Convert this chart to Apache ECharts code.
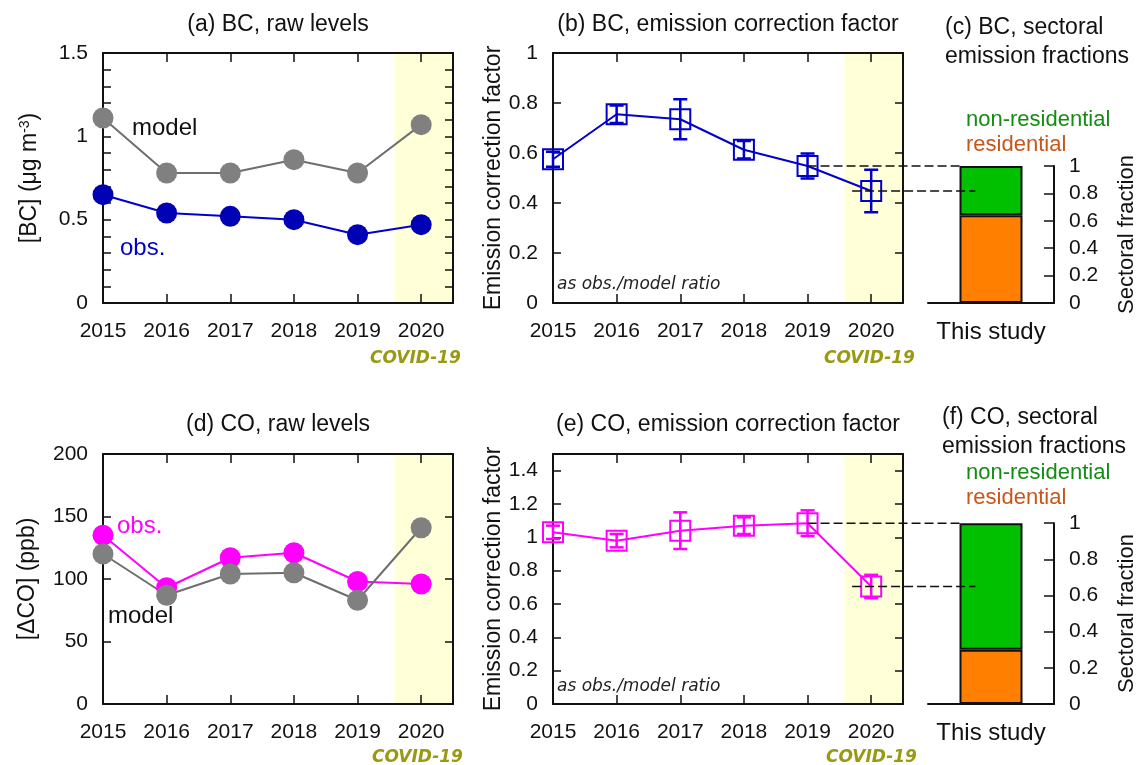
<!DOCTYPE html>
<html>
<head>
<meta charset="utf-8">
<script src="https://cdn.jsdelivr.net/npm/echarts@6/dist/echarts.min.js"></script>
<style>
  html, body { margin: 0; padding: 0; background: #fff; }
  #chart { width: 1142px; height: 765px; }
</style>
</head>
<body>
<div id="chart"></div>
<script>
// ---- data ----------------------------------------------------------------
const YEARS = [2015, 2016, 2017, 2018, 2019, 2020];

// (a) BC raw levels, ug m-3
const bcModel = [1.11, 0.78, 0.78, 0.86, 0.78, 1.07];
const bcObs   = [0.65, 0.54, 0.52, 0.50, 0.41, 0.47];

// (b) BC emission correction factor (obs./model) with uncertainty
const bcFactor    = [0.575, 0.755, 0.735, 0.613, 0.548, 0.448];
const bcFactorErr = [0.03, 0.035, 0.08, 0.035, 0.05, 0.085];

// (d) CO raw levels, ppb
const coObs   = [135, 93, 117, 121, 98, 96];
const coModel = [120, 87, 104, 105, 83, 141];

// (e) CO emission correction factor with uncertainty
const coFactor    = [1.03, 0.98, 1.04, 1.07, 1.085, 0.705];
const coFactorErr = [0.04, 0.04, 0.11, 0.05, 0.077, 0.07];

// (c), (f) sectoral emission fractions
const SECTOR_CATS       = ['This study'];
const bcResidential     = [0.64];
const bcNonResidential  = [0.36];
const coResidential     = [0.30];
const coNonResidential  = [0.70];

// COVID-19 period shading on the year axis
const COVID_START = 2019.58;
const YEAR_MIN = 2015, YEAR_MAX = 2020.5;

// ---- styling -------------------------------------------------------------
const FONT = '"Liberation Sans", Arial, Helvetica, sans-serif';
const INK = '#111';
const BLUE = '#0000cc', BLUE_DOT = '#0000b4';
const MAGENTA = '#ff00ff';
const GREY_DOT = '#808080', GREY_LINE = '#6e6e6e';
const SHADE = '#ffffd8';
const OLIVE = '#999912';
const GREEN = '#00c000', ORANGE = '#ff8000';
const GREEN_TXT = '#148c14', ORANGE_TXT = '#c8561a';

// grid geometry; the sector bars are sized so their top sits at the 2019 factor
const GA = { left: 103, top: 53, width: 350, height: 250 };
const GB = { left: 553, top: 53, width: 350, height: 250 };
const GD = { left: 103, top: 454, width: 350, height: 250 };
const GE = { left: 553, top: 454, width: 350, height: 250 };
const B_MAX = 1, E_MAX = 1.5;
const cTop = GB.top + GB.height * (1 - bcFactor[4] / B_MAX);
const fTop = GE.top + GE.height * (1 - coFactor[4] / E_MAX);
const GC = { left: 928, width: 126, top: cTop, height: GB.top + GB.height - cTop };
const GF = { left: 928, width: 126, top: fTop, height: GE.top + GE.height - fTop };
const BAR_W = 63;

const pairs = (ys) => YEARS.map((y, i) => [y, ys[i]]);
const triples = (ys, es) => YEARS.map((y, i) => [y, ys[i], es[i]]);
const near = (v, step) => Math.abs(v / step - Math.round(v / step)) < 1e-6;
const fmtNum = (v) => String(+v.toFixed(2));

function yearAxis(gridIndex, position) {
  const labelled = position === 'bottom';
  return {
    type: 'value', gridIndex, position, min: YEAR_MIN, max: YEAR_MAX, interval: 1, z: 2,
    axisLine: { show: true, onZero: false, lineStyle: { color: INK, width: 2 } },
    axisTick: { show: true, inside: true, length: 9, lineStyle: { color: INK, width: 1.5 } },
    axisLabel: labelled
      ? { show: true, margin: 18, fontSize: 21, color: INK, fontFamily: FONT,
          formatter: (v) => (YEARS.includes(v) ? String(v) : '') }
      : { show: false },
    splitLine: { show: false }
  };
}

function valueAxis(gridIndex, position, min, max, interval, labelStep, extra) {
  const labelled = position === 'left';
  return Object.assign({
    type: 'value', gridIndex, position, min, max, interval, z: 2,
    axisLine: { show: true, onZero: false, lineStyle: { color: INK, width: 2 } },
    axisTick: { show: true, inside: true, length: 8, lineStyle: { color: INK, width: 1.5 } },
    axisLabel: labelled
      ? { show: true, margin: 15, fontSize: 21, color: INK, fontFamily: FONT,
          formatter: (v) => (near(v, labelStep) ? fmtNum(v) : '') }
      : { show: false },
    splitLine: { show: false }
  }, extra || {});
}

const nameStyle = { fontSize: 23, color: INK, fontFamily: FONT };

function sectorAxes(gridIndex) {
  return {
    x: {
      type: 'category', gridIndex, data: SECTOR_CATS, position: 'bottom', z: 2,
      axisLine: { show: true, lineStyle: { color: INK, width: 2 } },
      axisTick: { show: false },
      axisLabel: { fontSize: 24, color: INK, fontFamily: FONT, margin: 17 },
      splitLine: { show: false }
    },
    y: {
      type: 'value', gridIndex, position: 'right', min: 0, max: 1, interval: 0.2, z: 2,
      axisLine: { show: true, lineStyle: { color: INK, width: 2 } },
      axisTick: { show: true, inside: true, length: 10, lineStyle: { color: INK, width: 1.5 } },
      axisLabel: { margin: 15, fontSize: 21, color: INK, fontFamily: FONT, formatter: fmtNum },
      splitLine: { show: false },
      name: 'Sectoral fraction', nameLocation: 'middle', nameRotate: 90, nameGap: 62,
      nameTextStyle: { fontSize: 22, color: INK, fontFamily: FONT }
    }
  };
}

const sc = sectorAxes(2), sf = sectorAxes(5);

const xAxes = [
  yearAxis(0, 'bottom'), yearAxis(0, 'top'),
  yearAxis(1, 'bottom'), yearAxis(1, 'top'),
  sc.x,
  yearAxis(3, 'bottom'), yearAxis(3, 'top'),
  yearAxis(4, 'bottom'), yearAxis(4, 'top'),
  sf.x
];

const yAxes = [
  valueAxis(0, 'left', 0, 1.5, 0.1, 0.5, {
    name: '[BC] (μg m{sup|-3})', nameLocation: 'middle', nameRotate: 90, nameGap: 62,
    nameTextStyle: Object.assign({}, nameStyle, { rich: { sup: { fontSize: 14, color: INK, fontFamily: FONT, verticalAlign: 'top' } } })
  }),
  valueAxis(0, 'right', 0, 1.5, 0.1, 0.5),
  valueAxis(1, 'left', 0, B_MAX, 0.2, 0.2, {
    name: 'Emission correction factor', nameLocation: 'middle', nameRotate: 90, nameGap: 48,
    nameTextStyle: nameStyle
  }),
  valueAxis(1, 'right', 0, B_MAX, 0.2, 0.2),
  sc.y,
  valueAxis(3, 'left', 0, 200, 50, 50, {
    name: '[ΔCO] (ppb)', nameLocation: 'middle', nameRotate: 90, nameGap: 64,
    nameTextStyle: nameStyle
  }),
  valueAxis(3, 'right', 0, 200, 50, 50),
  valueAxis(4, 'left', 0, E_MAX, 0.2, 0.2, {
    name: 'Emission correction factor', nameLocation: 'middle', nameRotate: 90, nameGap: 48,
    nameTextStyle: nameStyle
  }),
  valueAxis(4, 'right', 0, E_MAX, 0.2, 0.2),
  sf.y
];

function shading(xi, yi) {
  return {
    type: 'line', xAxisIndex: xi, yAxisIndex: yi, data: [], z: 1, silent: true,
    markArea: {
      silent: true, z: 1,
      itemStyle: { color: SHADE, borderWidth: 0 },
      data: [[{ xAxis: COVID_START }, { xAxis: YEAR_MAX }]]
    }
  };
}

function dots(xi, yi, values, dotColor, lineColor, name) {
  return {
    type: 'line', name, xAxisIndex: xi, yAxisIndex: yi, data: pairs(values), z: 3,
    symbol: 'circle', symbolSize: 21, showSymbol: true,
    itemStyle: { color: dotColor },
    lineStyle: { color: lineColor, width: 2 },
    emphasis: { disabled: true }
  };
}

function squares(xi, yi, values, color) {
  return {
    type: 'line', xAxisIndex: xi, yAxisIndex: yi, data: pairs(values), z: 3,
    symbol: 'rect', symbolSize: 20,
    itemStyle: { color: 'rgba(0,0,0,0)', borderColor: color, borderWidth: 2 },
    lineStyle: { color, width: 2 },
    emphasis: { disabled: true }
  };
}

function errorBars(xi, yi, values, errs, color) {
  return {
    type: 'custom', xAxisIndex: xi, yAxisIndex: yi, data: triples(values, errs), z: 4,
    encode: { x: 0, y: 1 },
    renderItem(params, api) {
      const x = api.value(0), y = api.value(1), e = api.value(2);
      const hi = api.coord([x, y + e]);
      const lo = api.coord([x, y - e]);
      const hw = 7;
      const st = { stroke: color, lineWidth: 2.5 };
      return {
        type: 'group',
        children: [
          { type: 'line', shape: { x1: hi[0], y1: hi[1], x2: lo[0], y2: lo[1] }, style: st },
          { type: 'line', shape: { x1: hi[0] - hw, y1: hi[1], x2: hi[0] + hw, y2: hi[1] }, style: st },
          { type: 'line', shape: { x1: lo[0] - hw, y1: lo[1], x2: lo[0] + hw, y2: lo[1] }, style: st }
        ]
      };
    }
  };
}

function sectorBars(xi, yi, res, nonRes, stack) {
  const base = { type: 'bar', xAxisIndex: xi, yAxisIndex: yi, stack, barWidth: BAR_W, z: 3 };
  return [
    Object.assign({}, base, { name: 'residential', data: res,
      itemStyle: { color: ORANGE, borderColor: INK, borderWidth: 2 } }),
    Object.assign({}, base, { name: 'non-residential', data: nonRes,
      itemStyle: { color: GREEN, borderColor: INK, borderWidth: 2 } })
  ];
}

const series = [
  shading(0, 0),
  dots(0, 0, bcModel, GREY_DOT, GREY_LINE, 'model'),
  dots(0, 0, bcObs, BLUE_DOT, BLUE, 'obs.'),
  shading(2, 2),
  squares(2, 2, bcFactor, BLUE),
  errorBars(2, 2, bcFactor, bcFactorErr, BLUE),
  ...sectorBars(4, 4, bcResidential, bcNonResidential, 'bc'),
  shading(5, 5),
  dots(5, 5, coObs, MAGENTA, MAGENTA, 'obs.'),
  dots(5, 5, coModel, GREY_DOT, GREY_LINE, 'model'),
  shading(7, 7),
  squares(7, 7, coFactor, MAGENTA),
  errorBars(7, 7, coFactor, coFactorErr, MAGENTA),
  ...sectorBars(9, 9, coResidential, coNonResidential, 'co')
];

const chart = echarts.init(document.getElementById('chart'), null, { renderer: 'canvas' });
chart.setOption({
  animation: false,
  backgroundColor: '#fff',
  textStyle: { fontFamily: FONT },
  grid: [GA, GB, GC, GD, GE, GF].map((g) => Object.assign({ containLabel: false, show: false }, g)),
  xAxis: xAxes,
  yAxis: yAxes,
  series
});

// ---- annotations -----------------------------------------------------------
function text(str, x, y, opts) {
  const o = opts || {};
  return {
    type: 'text', x, y, z: 10, silent: true,
    style: {
      text: str,
      fill: o.fill || INK,
      font: (o.style || '') + ' ' + (o.weight || '') + ' ' + (o.size || 23) + 'px ' + (o.family || FONT),
      align: o.align || 'left', textAlign: o.align || 'left',
      verticalAlign: 'middle', textVerticalAlign: 'middle'
    }
  };
}

function dashed(p1, p2) {
  return {
    type: 'line', z: 10, silent: true,
    shape: { x1: p1[0], y1: p1[1], x2: p2[0], y2: p2[1] },
    style: { stroke: INK, lineWidth: 1.5, lineDash: [9, 4] }
  };
}

// connectors from the 2019 and 2020 factors to the sector bars
function connectors(xi, yi, barXi, barYi, factor) {
  const p19 = chart.convertToPixel({ xAxisIndex: xi, yAxisIndex: yi }, [2019, factor[4]]);
  const p20 = chart.convertToPixel({ xAxisIndex: xi, yAxisIndex: yi }, [2019.7, factor[5]]);
  const barCenter = chart.convertToPixel({ xAxisIndex: barXi, yAxisIndex: barYi }, [SECTOR_CATS[0], 0])[0];
  const barLeft = barCenter - BAR_W / 2;
  return [
    dashed(p19, [barLeft, p19[1]]),
    dashed(p20, [barLeft + 16, p20[1]])
  ];
}

const covid = (x, y) => text('COVID-19', x, y, { fill: OLIVE, size: 17, style: 'italic', weight: 'bold', family: '"DejaVu Sans", sans-serif' });
const ratioNote = (x, y) => text('as obs./model ratio', x, y, { size: 17, style: 'italic', family: '"DejaVu Sans", sans-serif', fill: '#222' });

const graphics = [
  text('(a) BC, raw levels', 278, 25, { align: 'center' }),
  text('(b) BC, emission correction factor', 728, 25, { align: 'center' }),
  text('(c) BC, sectoral', 945, 28),
  text('emission fractions', 945, 57),
  text('(d) CO, raw levels', 278, 425, { align: 'center' }),
  text('(e) CO, emission correction factor', 728, 425, { align: 'center' }),
  text('(f) CO, sectoral', 942, 418),
  text('emission fractions', 942, 447),

  text('model', 132, 128, { size: 24 }),
  text('obs.', 120, 248, { size: 24, fill: BLUE }),
  text('obs.', 117, 526, { size: 24, fill: MAGENTA }),
  text('model', 108, 616, { size: 24 }),

  text('non-residential', 966, 120, { size: 22, fill: GREEN_TXT }),
  text('residential', 966, 145, { size: 22, fill: ORANGE_TXT }),
  text('non-residential', 966, 473, { size: 22, fill: GREEN_TXT }),
  text('residential', 966, 498, { size: 22, fill: ORANGE_TXT }),

  covid(370, 359), covid(824, 359), covid(372, 758), covid(826, 758),
  ratioNote(557, 285), ratioNote(557, 687),

  ...connectors(2, 2, 4, 4, bcFactor),
  ...connectors(7, 7, 9, 9, coFactor)
];

chart.setOption({ graphic: graphics });
</script>
</body>
</html>
